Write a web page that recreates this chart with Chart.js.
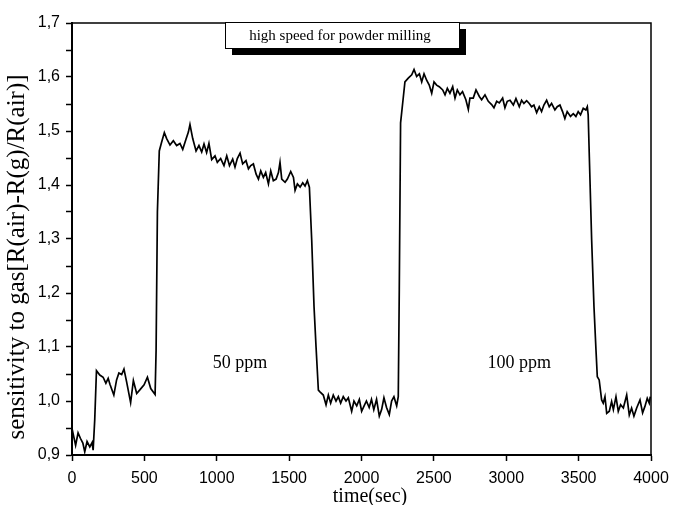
<!DOCTYPE html>
<html>
<head>
<meta charset="utf-8">
<script src="https://cdn.jsdelivr.net/npm/chart.js@4"></script>
<style>
  html, body { margin: 0; padding: 0; background: #fff; }
  #wrap { width: 674px; height: 505px; }
</style>
</head>
<body>
<div id="wrap"><canvas id="myChart"></canvas></div>
<script>
const timeSec = [
  0, 12, 25, 42, 58, 75, 88, 104, 123, 139, 146, 157, 169, 192, 215, 234, 250, 262, 289, 308,
  324, 343, 359, 377, 405, 424, 447, 470, 498, 521, 544, 574, 581, 590, 603, 619, 638, 654, 677, 700,
  723, 746, 765, 788, 804, 815, 834, 857, 877, 896, 912, 930, 946, 965, 988, 1004, 1027, 1050, 1069, 1088,
  1110, 1126, 1142, 1161, 1179, 1202, 1219, 1235, 1253, 1272, 1288, 1304, 1322, 1338, 1357, 1373, 1391, 1410, 1426, 1437,
  1449, 1472, 1488, 1511, 1530, 1541, 1557, 1576, 1594, 1610, 1626, 1640, 1656, 1672, 1686, 1702, 1713, 1736, 1755, 1771,
  1787, 1805, 1824, 1840, 1856, 1874, 1893, 1909, 1932, 1948, 1967, 1985, 2001, 2018, 2034, 2053, 2069, 2085, 2104, 2123,
  2139, 2155, 2173, 2192, 2208, 2224, 2243, 2254, 2261, 2270, 2289, 2300, 2323, 2347, 2363, 2381, 2400, 2416, 2432, 2450,
  2468, 2485, 2501, 2519, 2537, 2561, 2577, 2593, 2611, 2630, 2646, 2662, 2680, 2698, 2721, 2738, 2749, 2772, 2791, 2814,
  2830, 2853, 2876, 2899, 2915, 2934, 2952, 2975, 2991, 3007, 3026, 3049, 3067, 3090, 3106, 3122, 3141, 3159, 3175, 3191,
  3210, 3228, 3244, 3260, 3279, 3297, 3313, 3336, 3352, 3371, 3389, 3405, 3421, 3444, 3463, 3481, 3497, 3513, 3532, 3550,
  3560, 3566, 3574, 3590, 3606, 3620, 3629, 3642, 3659, 3670, 3682, 3694, 3712, 3728, 3740, 3758, 3774, 3790, 3809, 3832,
  3850, 3866, 3882, 3901, 3924, 3942, 3958, 3974, 3988, 3995
];
const sensitivity = [
  0.949, 0.934, 0.918, 0.941, 0.931, 0.922, 0.906, 0.925, 0.915, 0.923, 0.909, 0.965, 1.056, 1.048, 1.044, 1.033, 1.042, 1.031, 1.011, 1.039,
  1.052, 1.049, 1.059, 1.036, 0.997, 1.038, 1.014, 1.021, 1.030, 1.044, 1.023, 1.012, 1.094, 1.350, 1.463, 1.479, 1.497, 1.486, 1.474, 1.482,
  1.473, 1.477, 1.466, 1.485, 1.498, 1.512, 1.486, 1.463, 1.473, 1.461, 1.476, 1.460, 1.477, 1.447, 1.454, 1.442, 1.449, 1.436, 1.454, 1.436,
  1.448, 1.433, 1.449, 1.459, 1.439, 1.445, 1.430, 1.436, 1.439, 1.420, 1.411, 1.426, 1.414, 1.423, 1.402, 1.426, 1.408, 1.411, 1.423, 1.442,
  1.411, 1.405, 1.411, 1.425, 1.414, 1.390, 1.402, 1.396, 1.404, 1.398, 1.408, 1.396, 1.298, 1.175, 1.100, 1.020, 1.017, 1.011, 0.993, 1.011,
  0.996, 1.011, 1.000, 1.008, 0.996, 1.008, 1.000, 1.006, 0.981, 1.000, 0.991, 1.003, 0.981, 0.991, 1.000, 0.988, 1.003, 0.984, 1.003, 0.972,
  0.984, 1.006, 0.988, 0.975, 1.000, 1.008, 0.991, 1.008, 1.206, 1.515, 1.563, 1.591, 1.598, 1.604, 1.614, 1.601, 1.606, 1.591, 1.606, 1.594,
  1.585, 1.570, 1.591, 1.585, 1.582, 1.576, 1.567, 1.579, 1.570, 1.582, 1.561, 1.576, 1.567, 1.573, 1.558, 1.540, 1.561, 1.561, 1.576, 1.564,
  1.558, 1.567, 1.555, 1.549, 1.543, 1.555, 1.552, 1.561, 1.543, 1.555, 1.557, 1.548, 1.560, 1.545, 1.557, 1.551, 1.556, 1.551, 1.545, 1.548,
  1.534, 1.545, 1.536, 1.548, 1.557, 1.545, 1.551, 1.539, 1.545, 1.548, 1.536, 1.523, 1.536, 1.527, 1.532, 1.527, 1.536, 1.530, 1.542, 1.539,
  1.545, 1.530, 1.452, 1.298, 1.175, 1.094, 1.045, 1.039, 1.002, 0.996, 1.008, 0.977, 0.981, 0.999, 0.984, 1.008, 0.981, 0.993, 0.987, 1.011,
  0.974, 0.987, 0.972, 0.987, 1.002, 0.978, 0.990, 1.005, 0.996, 1.008
];

const xTickLabels = [0, 500, 1000, 1500, 2000, 2500, 3000, 3500, 4000];
const yTickLabels = [0.9, 1.0, 1.1, 1.2, 1.3, 1.4, 1.5, 1.6, 1.7];

const boxText = "high speed for powder milling";
const concLabels = ["50 ppm", "100 ppm"];
const concAt = [1160, 3090];   // time where each label sits
const concLevel = 1.07;

const serif = '"Liberation Serif", "DejaVu Serif", serif';
const sans = '"Liberation Sans", Arial, sans-serif';

let points = timeSec.map((t, i) => ({x: t, y: sensitivity[i]}));

function isMajor(list, v) {
  return list.some(m => Math.abs(m - v) < 1e-6);
}

// frame, text box and labels
const decorations = {
  id: 'decorations',
  afterDraw(chart) {
    const ctx = chart.ctx;
    const a = chart.chartArea;
    const xs = chart.scales.x, ys = chart.scales.y;
    ctx.save();
    ctx.strokeStyle = '#000';
    ctx.lineWidth = 1.5;
    ctx.strokeRect(a.left, a.top, a.right - a.left, a.bottom - a.top);

    // boxed title with black shadow
    ctx.font = '15px ' + serif;
    const bx = 225, by = a.top - 1, bw = 234, bh = 26;
    ctx.fillStyle = '#000';
    ctx.fillRect(bx + 7, by + 7, bw, bh);
    ctx.fillStyle = '#fff';
    ctx.fillRect(bx, by, bw, bh);
    ctx.lineWidth = 1;
    ctx.strokeRect(bx + 0.5, by + 0.5, bw, bh);
    ctx.fillStyle = '#000';
    ctx.textAlign = 'center';
    ctx.textBaseline = 'middle';
    ctx.fillText(boxText, bx + bw / 2 - 2, by + bh / 2 + 1);

    // concentration labels
    ctx.font = '18px ' + serif;
    concLabels.forEach((txt, i) => {
      ctx.fillText(txt, xs.getPixelForValue(concAt[i]), ys.getPixelForValue(concLevel));
    });

    // axis titles
    ctx.font = '20px ' + serif;
    ctx.fillText('time(sec)', 370, 497);
    ctx.font = '25px ' + serif;
    ctx.translate(17, 257);
    ctx.rotate(-Math.PI / 2);
    ctx.fillText('sensitivity to gas[R(air)-R(g)/R(air)]', 0, 0);
    ctx.restore();
  }
};

const myChart = document.getElementById('myChart');

let lineChart = new Chart(myChart, {
  type: 'line',
  data: {
    datasets: [{
      data: points,
      borderColor: '#000',
      borderWidth: 1.7,
      pointRadius: 0,
      tension: 0,
      fill: false
    }]
  },
  options: {
    responsive: true,
    maintainAspectRatio: false,
    animation: false,
    layout: { padding: { top: 23, right: 23, left: 0, bottom: 0 } },
    plugins: {
      legend: { display: false },
      tooltip: { enabled: false }
    },
    scales: {
      x: {
        type: 'linear',
        min: 0,
        max: 4000,
        afterFit: s => { s.height = 50; s.paddingRight = 0; s.paddingLeft = 0; },
        border: { color: '#000', width: 2 },
        grid: { drawOnChartArea: false, color: '#000', tickColor: '#000', tickLength: 6, tickWidth: 1.5 },
        ticks: {
          stepSize: 250,
          color: '#000',
          padding: 8,
          maxRotation: 0,
          font: { family: sans, size: 16 },
          callback: v => isMajor(xTickLabels, v) ? String(v) : ''
        }
      },
      y: {
        min: 0.9,
        max: 1.7,
        afterFit: s => { s.width = 72; },
        border: { color: '#000', width: 2 },
        grid: { drawOnChartArea: false, color: '#000', tickColor: '#000', tickLength: 6, tickWidth: 1.5 },
        ticks: {
          stepSize: 0.05,
          color: '#000',
          padding: 6,
          font: { family: sans, size: 16 },
          callback: v => isMajor(yTickLabels, v) ? v.toFixed(1).replace('.', ',') : ''
        }
      }
    }
  },
  plugins: [decorations]
});
</script>
</body>
</html>
